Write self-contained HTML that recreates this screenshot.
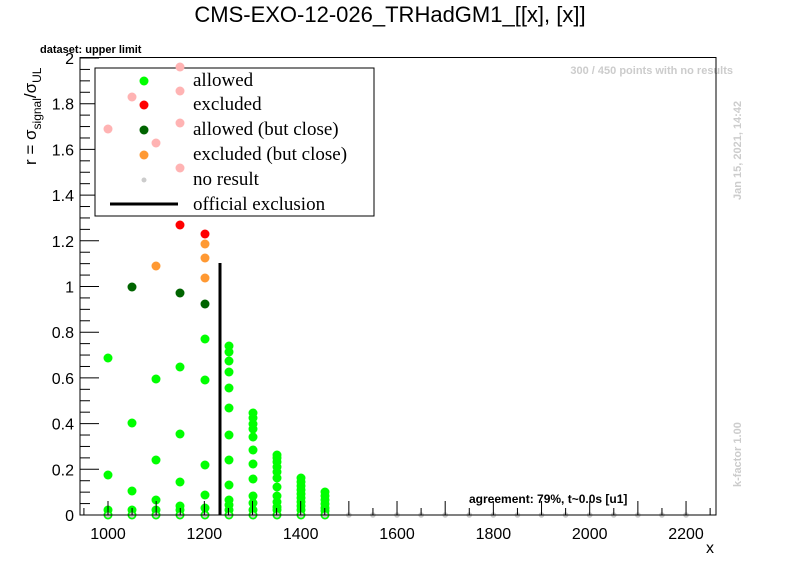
<!DOCTYPE html>
<html><head><meta charset="utf-8"><style>
body{margin:0;background:#fff;}
svg{display:block;font-family:"Liberation Sans",sans-serif;}
</style></head><body>
<svg id="s" width="796" height="572" viewBox="0 0 796 572" xmlns="http://www.w3.org/2000/svg">
<rect width="796" height="572" fill="#fff"/>
<text x="390" y="22" font-size="22" text-anchor="middle">CMS-EXO-12-026_TRHadGM1_[[x], [x]]</text>
<text x="40" y="53" font-size="11" font-weight="bold">dataset: upper limit</text>
<text x="733" y="74" font-size="11" font-weight="bold" fill="#ccc" text-anchor="end">300 / 450 points with no results</text>
<text transform="translate(741,200) rotate(-90)" font-size="11" font-weight="bold" fill="#ccc">Jan 15, 2021, 14:42</text>
<text transform="translate(741,487) rotate(-90)" font-size="11" font-weight="bold" fill="#ccc">k-factor 1.00</text>
<text x="469" y="503" font-size="12" font-weight="bold">agreement: 79%, t~0.0s [u1]</text>
<g id="pts"></g>
<g id="ax" stroke="#000" stroke-width="1" fill="none"></g>
<rect x="80" y="57.5" width="636" height="457.5" fill="none" stroke="#000"/>
<line x1="220" y1="263" x2="220" y2="515" stroke="#000" stroke-width="3"/>
<g id="lbl" font-size="16"></g>
<text x="714" y="553" font-size="16" text-anchor="end">x</text>
<text transform="translate(36,165) rotate(-90)" font-size="17">r = σ<tspan font-size="12" dy="5">signal</tspan><tspan dy="-5">/σ</tspan><tspan font-size="12" dy="5">UL</tspan></text>
<rect x="95" y="68" width="279" height="148" fill="#fff" stroke="#000"/>
<g id="pink"></g>
<g font-family="Liberation Serif,serif" font-size="19">
<circle cx="144" cy="81" r="4.5" fill="#00ff00"/><text x="193" y="86">allowed</text>
<circle cx="144" cy="105" r="4.5" fill="#ff0000"/><text x="193" y="110">excluded</text>
<circle cx="144" cy="130" r="4.5" fill="#006400"/><text x="193" y="135">allowed (but close)</text>
<circle cx="144" cy="155" r="4.5" fill="#ff9933"/><text x="193" y="160">excluded (but close)</text>
<circle cx="144" cy="180" r="2.5" fill="#ccc"/><text x="193" y="185">no result</text>
<line x1="110" y1="204" x2="178" y2="204" stroke="#000" stroke-width="3"/><text x="193" y="210">official exclusion</text>
</g>
</svg>
<script>
var NS="http://www.w3.org/2000/svg";
function X(v){return 108+(v-1000)*0.4817;}
function Y(r){return 515-r*228.5;}
function c(g,x,y,r,f){var e=document.createElementNS(NS,"circle");e.setAttribute("cx",x);e.setAttribute("cy",y);e.setAttribute("r",r);e.setAttribute("fill",f);document.getElementById(g).appendChild(e);}
function l(x1,y1,x2,y2){var e=document.createElementNS(NS,"line");e.setAttribute("x1",x1);e.setAttribute("y1",y1);e.setAttribute("x2",x2);e.setAttribute("y2",y2);document.getElementById("ax").appendChild(e);}
function t(x,y,s,a){var e=document.createElementNS(NS,"text");e.setAttribute("x",x);e.setAttribute("y",y);e.setAttribute("text-anchor",a);e.textContent=s;document.getElementById("lbl").appendChild(e);}
var G="#00ff00",D="#006400",R="#ff0000",O="#ff9933";
var cols={108:[[358,G],[475,G],[510,G]],132:[[287,D],[423,G],[491,G],[510,G]],156:[[266,O],[379,G],[460,G],[500,G],[510,G]],
180:[[225,R],[293,D],[367,G],[434,G],[482,G],[506,G],[510,G]],205:[[234,R],[244,O],[258,O],[278,O],[304,D],[339,G],[380,G],[465,G],[495,G],[508,G]],
229:[[346,G],[352,G],[361,G],[372,G],[388,G],[408,G],[435,G],[460,G],[485,G],[500,G],[505,G],[510,G]],
253:[[413,G],[418,G],[424,G],[429,G],[437,G],[450,G],[464,G],[479,G],[496,G],[503,G],[510,G]],
277:[[455,G],[458,G],[462,G],[467,G],[472,G],[478,G],[487,G],[496,G],[502,G],[507,G],[510,G]],
301:[[478,G],[482,G],[486,G],[490,G],[494,G],[498,G],[502,G],[506,G],[510,G]],
325:[[492,G],[496,G],[500,G],[504,G],[508,G],[511,G]]};
for(var k in cols){cols[k].forEach(function(p){c("pts",+k,p[0],4.5,p[1]);});c("pts",+k,515,4.5,G);c("pts",+k,515,2.8,"#ccc");}
for(var v=1500;v<=2200;v+=50)c("pts",X(v),515,2.8,"#ccc");
[[108,129],[132,97],[156,143],[180,67],[180,91],[180,123],[180,168]].forEach(function(p){c("pink",p[0],p[1],4.5,"#ffb3b3");});
for(var r=0;r<=2.0001;r+=0.05){var m=Math.abs(r*5-Math.round(r*5))<1e-6;l(80,Y(r),80+(m?19:10),Y(r));if(m)t(74,Y(r)+6,(Math.round(r*10)/10).toString(),"end");}
for(var v=950;v<=2250;v+=50){var m=v%100==0;l(X(v),515,X(v),515-(m?14:7));if(m&&v%200==0)t(X(v),539,v,"middle");}
</script>
</body></html>
